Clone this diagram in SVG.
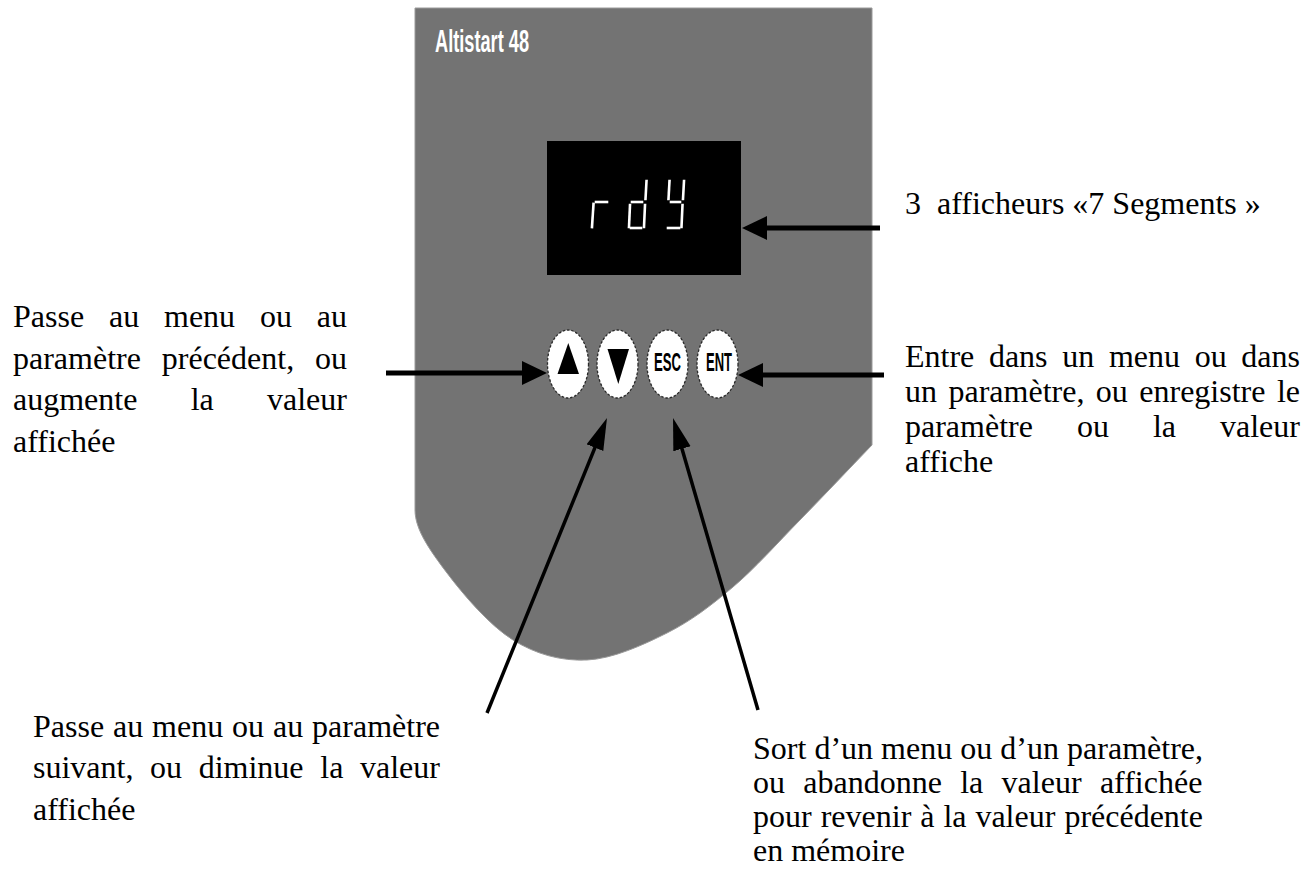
<svg xmlns="http://www.w3.org/2000/svg" width="1312" height="879" viewBox="0 0 1312 879">
  <style>
    .lbl { font-family: "Liberation Serif", "Times New Roman", serif; font-size: 32px; fill: #000; }
    .brand { font-family: "Liberation Sans", Arial, sans-serif; font-weight: bold; fill: #fff; }
    .key { fill: #fff; stroke: #2a2a2a; stroke-width: 1.3; stroke-dasharray: 2.5 1.8; }
    .keytxt { font-family: "Liberation Sans", Arial, sans-serif; font-weight: bold; font-size: 26px; fill: #000; text-anchor: middle; }
    .seg { fill: none; stroke: #fff; stroke-width: 2.6; stroke-linecap: square; }
    .conn-h { stroke: #000; stroke-width: 5; fill: none; }
    .conn-d { stroke: #000; stroke-width: 3.5; fill: none; }
  </style>
  <defs>
    <marker id="headWide" markerUnits="userSpaceOnUse" markerWidth="26" markerHeight="26" refX="5" refY="12" orient="auto">
      <path d="M0,0 L25,12 L0,24 Z" fill="#000"/>
    </marker>
    <marker id="headSlim" markerUnits="userSpaceOnUse" markerWidth="34" markerHeight="20" refX="6" refY="9" orient="auto">
      <path d="M0,0 L32,9 L0,18 Z" fill="#000"/>
    </marker>
  </defs>

  <rect width="1312" height="879" fill="#fff"/>

  <!-- keypad housing -->
  <g id="panel">
    <path d="M415,8 H872 V445 C848,470 823.2,496.3 800,520 C776.8,543.7 755.2,568.2 733,587 C710.8,605.8 691.3,620.8 667,633 C642.7,645.2 612.7,658.8 587,660 C561.3,661.2 536.3,654.5 513,640 C489.7,625.5 463.3,594.7 447,573 C430.7,551.3 415,530 415,510 Z" fill="#737373" stroke="#9a9a9a" stroke-width="1"/>
    <text class="brand" x="435" y="52" font-size="31" textLength="94" lengthAdjust="spacingAndGlyphs">Altistart 48</text>
  </g>

  <!-- 3-digit seven-segment readout -->
  <g id="display">
    <rect x="547" y="141" width="194" height="134" fill="#000"/>
    <!-- r -->
    <path class="seg" d="M593.5,204 L592,227"/>
    <path class="seg" d="M596,202 L607,202"/>
    <!-- d -->
    <path class="seg" d="M646.5,181 L645.5,199 M645,205 L644,227"/>
    <path class="seg" d="M630,205 L629,227"/>
    <path class="seg" d="M632,202 L642,202"/>
    <path class="seg" d="M631,228 L641,228"/>
    <!-- Y -->
    <path class="seg" d="M669.5,181 L668.5,199"/>
    <path class="seg" d="M684,181 L683,199 M682.5,205 L681.5,227"/>
    <path class="seg" d="M671,202 L680,202"/>
    <path class="seg" d="M668,228 L679,228"/>
  </g>

  <g id="key-up">
    <ellipse class="key" cx="568" cy="364" rx="20.5" ry="34"/>
    <polygon points="568.3,343 557.5,374 579,374" fill="#000"/>
  </g>
  <g id="key-down">
    <ellipse class="key" cx="617.5" cy="364" rx="20.5" ry="34"/>
    <polygon points="607.5,349 629,349 618.3,384" fill="#000"/>
  </g>
  <g id="key-esc">
    <ellipse class="key" cx="667.5" cy="364" rx="20.5" ry="34"/>
    <text class="keytxt" x="667.5" y="371" textLength="27" lengthAdjust="spacingAndGlyphs">ESC</text>
  </g>
  <g id="key-ent">
    <ellipse class="key" cx="717.5" cy="364" rx="20.5" ry="34"/>
    <text class="keytxt" x="719" y="371" textLength="26" lengthAdjust="spacingAndGlyphs">ENT</text>
  </g>

  <!-- callout arrows -->
  <g id="connectors">
    <line class="conn-h" x1="880" y1="228" x2="762" y2="228" marker-end="url(#headWide)"/>
    <line class="conn-h" x1="386" y1="373" x2="527" y2="373" marker-end="url(#headWide)"/>
    <line class="conn-h" x1="884" y1="375" x2="758" y2="375" marker-end="url(#headWide)"/>
    <line class="conn-d" x1="487" y1="713" x2="597.2" y2="442.1" marker-end="url(#headSlim)"/>
    <line class="conn-d" x1="758" y1="710" x2="680.3" y2="443" marker-end="url(#headSlim)"/>
  </g>

  <!-- descriptions -->
  <g id="note-display">
    <text class="lbl" x="905" y="214" xml:space="preserve">3  afficheurs «7 Segments »</text>
  </g>

  <g id="note-up">
    <text class="lbl" y="327"><tspan x="13">Passe</tspan><tspan x="109">au</tspan><tspan x="164">menu</tspan><tspan x="260">ou</tspan><tspan x="316.8">au</tspan></text>
    <text class="lbl" y="369"><tspan x="13">paramètre</tspan><tspan x="161.8">précédent,</tspan><tspan x="315">ou</tspan></text>
    <text class="lbl" y="410"><tspan x="13">augmente</tspan><tspan x="190.7">la</tspan><tspan x="267">valeur</tspan></text>
    <text class="lbl" x="13" y="452">affichée</text>
  </g>

  <g id="note-ent">
    <text class="lbl" y="367"><tspan x="905">Entre</tspan><tspan x="988.9">dans</tspan><tspan x="1062.3">un</tspan><tspan x="1108.9">menu</tspan><tspan x="1194.7">ou</tspan><tspan x="1241.3">dans</tspan></text>
    <text class="lbl" y="402"><tspan x="905">un</tspan><tspan x="948.5">paramètre,</tspan><tspan x="1095.8">ou</tspan><tspan x="1139.3">enregistre</tspan><tspan x="1276.9">le</tspan></text>
    <text class="lbl" y="437"><tspan x="905">paramètre</tspan><tspan x="1076.9">ou</tspan><tspan x="1152.9">la</tspan><tspan x="1220">valeur</tspan></text>
    <text class="lbl" x="905" y="472">affiche</text>
  </g>

  <g id="note-down">
    <text class="lbl" y="737"><tspan x="33">Passe</tspan><tspan x="113">au</tspan><tspan x="152.1">menu</tspan><tspan x="232.1">ou</tspan><tspan x="273">au</tspan><tspan x="312.1">paramètre</tspan></text>
    <text class="lbl" y="778"><tspan x="33">suivant,</tspan><tspan x="150">ou</tspan><tspan x="198.7">diminue</tspan><tspan x="320.3">la</tspan><tspan x="360">valeur</tspan></text>
    <text class="lbl" x="33" y="820">affichée</text>
  </g>

  <g id="note-esc">
    <text class="lbl" y="759"><tspan x="753">Sort</tspan><tspan x="814.4">d’un</tspan><tspan x="881.1">menu</tspan><tspan x="960.3">ou</tspan><tspan x="1000.3">d’un</tspan><tspan x="1067.1">paramètre,</tspan></text>
    <text class="lbl" y="793"><tspan x="753">ou</tspan><tspan x="803.3">abandonne</tspan><tspan x="960.2">la</tspan><tspan x="1001.6">valeur</tspan><tspan x="1099.9">affichée</tspan></text>
    <text class="lbl" y="827"><tspan x="753">pour</tspan><tspan x="820.7">revenir</tspan><tspan x="920.2">à</tspan><tspan x="943.4">la</tspan><tspan x="975.4">valeur</tspan><tspan x="1064.4">précédente</tspan></text>
    <text class="lbl" x="753" y="861">en mémoire</text>
  </g>
</svg>
